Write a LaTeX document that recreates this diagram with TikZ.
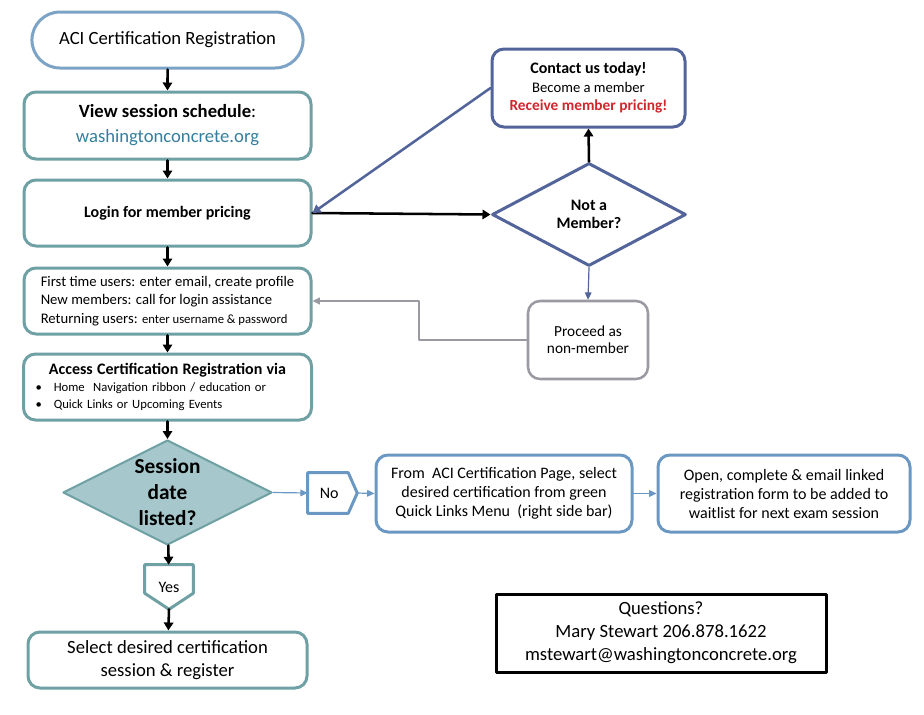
\documentclass[tikz,border=0pt]{standalone}
\usepackage{fontspec}
\setmainfont{Carlito}
\usetikzlibrary{arrows.meta,shapes.geometric,shapes.misc}
\definecolor{tealline}{RGB}{110,160,164}
\definecolor{tealfill}{RGB}{166,200,204}
\definecolor{termline}{RGB}{124,163,198}
\definecolor{slateline}{RGB}{82,100,154}
\definecolor{blueline}{RGB}{106,152,194}
\definecolor{grayline}{RGB}{155,153,161}
\definecolor{redtext}{RGB}{208,38,44}
\definecolor{urltext}{RGB}{52,127,158}

\begin{document}
\begin{tikzpicture}[line cap=round,line join=round,>={Triangle[length=6pt,width=7pt]},x=0.75pt,y=-0.75pt,
		tealbox/.style={draw=tealline,line width=2.25pt,rounded corners=9pt,fill=white,minimum width=215.25pt,minimum height=49.5pt,align=center},
		bluebox/.style={draw=blueline,line width=2.25pt,rounded corners=9pt,minimum height=57.75pt,align=center,font=\fontsize{12}{14.25}\selectfont},
		blackarrow/.style={->,line width=1.9pt,black},
		thinarrow/.style={-{Triangle[length=5.5pt,width=5pt]},line width=0.9pt,blueline}]
		\useasboundingbox (0,0) rectangle (924,714);
		% left column
		\node[rounded rectangle,draw=termline,line width=2.25pt,minimum width=210pt,minimum height=42pt,font=\fontsize{14}{17}\selectfont] (start) at (167.5,40) {ACI Certification Registration};
		\node[tealbox,minimum height=50.25pt,font=\fontsize{14}{18.75}\selectfont] (view) at (167.5,125.5) {\textbf{View session schedule}:\\ \textcolor{urltext}{washingtonconcrete.org}};
		\node[tealbox,font=\fontsize{12}{14}\selectfont\bfseries] (login) at (167.5,213) {Login for member pricing};
		\node[tealbox,align=left,font=\fontsize{11}{14}\selectfont] (first) at (167.5,301) {First time users: enter email, create profile\\ New members: call for login assistance\\ Returning users: {\fontsize{9.5}{14}\selectfont enter username \& password}};
		\node[tealbox,text width=198pt,inner xsep=9pt,align=left,font=\fontsize{9.5}{13}\selectfont] (access) at (167.5,387) {{\centering\fontsize{12}{14}\selectfont\bfseries Access Certification Registration via\par}\textbullet\hspace{9pt}Home\ \ Navigation ribbon / education or\\ \textbullet\hspace{9pt}Quick Links or Upcoming Events};
		\node[diamond,draw=tealline,fill=tealfill,line width=1.5pt,inner sep=0pt,minimum width=156.75pt,minimum height=78.75pt,
			label={[align=center,font=\fontsize{16}{19.5}\selectfont\bfseries]center:Session\\ date\\ listed?}] (listed) at (167.5,492.5) {};
		\node[minimum width=36pt,minimum height=33pt,inner sep=0pt,font=\fontsize{12}{14}\selectfont] (yes) at (169,587) {Yes};
		\draw[tealline,line width=2.25pt] (yes.north west) -- (yes.north east) -- ([yshift=12pt]yes.south east) -- (yes.south) -- ([yshift=12pt]yes.south west) -- cycle;
		\node[tealbox,minimum width=209.25pt,minimum height=42pt,font=\fontsize{14}{17.25}\selectfont] (select) at (167.5,660) {Select desired certification\\ session \& register};
		% no branch
		\node[minimum width=36.75pt,minimum height=30pt,inner sep=0pt,font=\fontsize{12}{14}\selectfont] (no) at (332.5,493) {\hspace*{-5pt}No};
		\draw[blueline,line width=2.25pt] (no.north west) -- ([xshift=-6.75pt]no.north east) -- (no.east) -- ([xshift=-6.75pt]no.south east) -- (no.south west) -- cycle;
		\node[bluebox,minimum width=192pt] (from) at (504,493.5) {From\ \ ACI Certification Page, select\\ desired certification from green\\ Quick Links Menu\ \ (right side bar)};
		\node[bluebox,minimum width=189pt] (open) at (784,493.5) {Open, complete \& email linked\\ registration form to be added to\\ waitlist for next exam session};
		\node[draw=black,line width=2.25pt,minimum width=247.5pt,minimum height=58.5pt,align=center,font=\fontsize{14}{17.25}\selectfont] (questions) at (661,633) {Questions?\\ Mary Stewart 206.878.1622\\ mstewart@washingtonconcrete.org};
		% member branch
		\node[draw=slateline,line width=2.25pt,rounded corners=9pt,minimum width=144.75pt,minimum height=58.5pt,align=center,font=\fontsize{11}{13.9}\selectfont] (contact) at (588.5,88) {{\fontsize{12}{13.9}\selectfont\bfseries Contact us today!}\\ Become a member\\ {\fontsize{11.5}{13.9}\selectfont\color{redtext}\bfseries Receive member pricing!}};
		\node[diamond,draw=slateline,line width=2.25pt,inner sep=0pt,minimum width=145.5pt,minimum height=77.25pt,
			label={[align=center,font=\fontsize{12}{14}\selectfont\bfseries]center:Not a\\ Member?}] (member) at (589,214.5) {};
		\node[draw=grayline,line width=1.9pt,rounded corners=9pt,minimum width=90pt,minimum height=58.5pt,align=center,font=\fontsize{11.5}{13}\selectfont] (proceed) at (588,340) {Proceed as\\ non-member};
		\coordinate (bend) at (419,340);
		% connectors
		\draw[blackarrow] (start) -- (view);
		\draw[blackarrow] (view) -- (login);
		\draw[blackarrow] (login) -- (first);
		\draw[blackarrow] (first) -- (access);
		\draw[blackarrow] (access) -- (listed);
		\draw[blackarrow] (listed) -- (yes);
		\draw[blackarrow] (yes.south) -- (select);
		\draw[thinarrow] (listed.east) -- (no.west);
		\draw[thinarrow] (no.east) -- (from.west);
		\draw[thinarrow] (from.east) -- (open.west);
		\draw[blackarrow] (login.east) -- (member.west);
		\draw[blackarrow] (member.north) -- (contact.south);
		\draw[->,slateline,line width=1.9pt] (contact.west) -- (login.east);
		\draw[thinarrow,slateline] (member.south) -- (proceed.north);
		\draw[thinarrow,grayline,line width=1.5pt] (proceed.west) -- (bend) |- (first.east);
	\end{tikzpicture}
\end{document}
